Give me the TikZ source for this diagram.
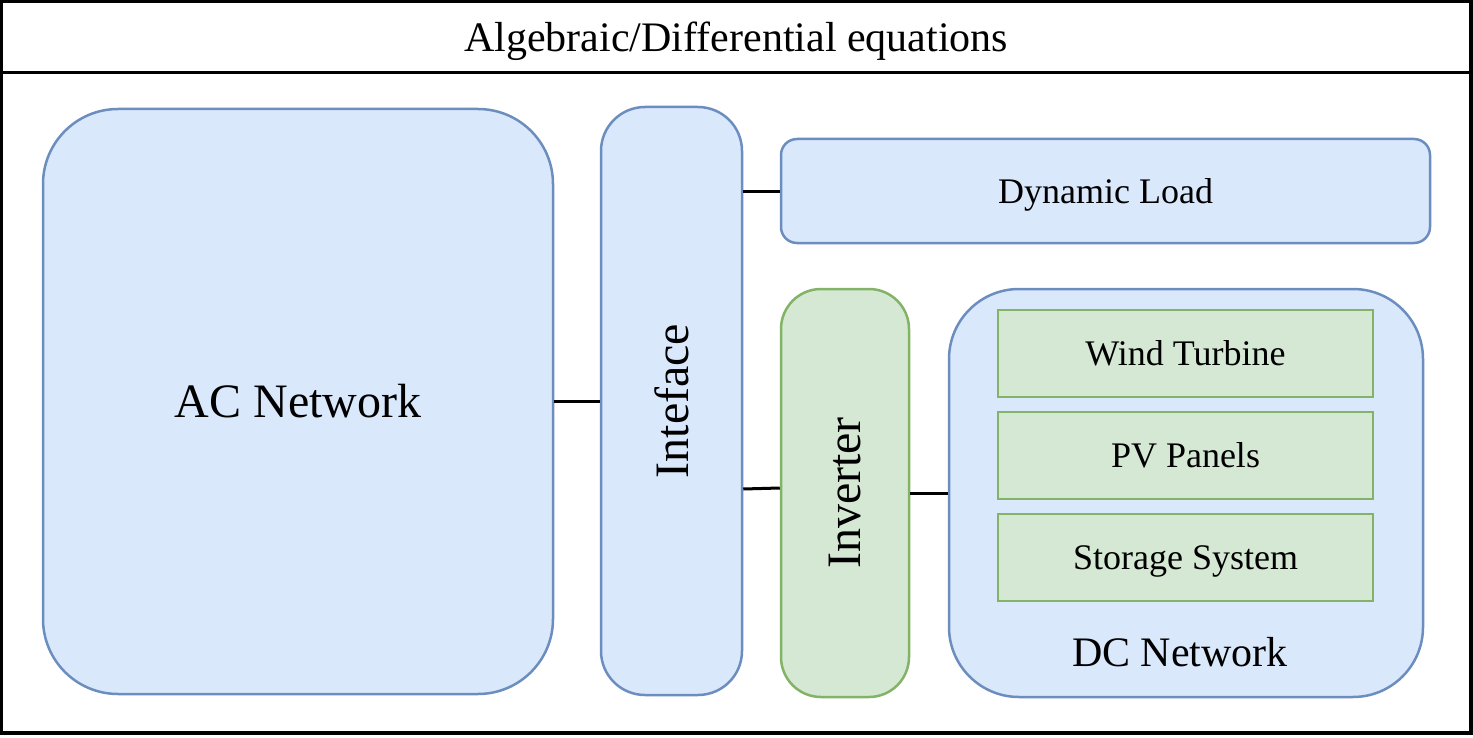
\documentclass[tikz,border=0pt]{standalone}
\usepackage{fontspec}
\setmainfont{Liberation Serif}
\definecolor{blueFill}{HTML}{DAE8FC}
\definecolor{blueLine}{HTML}{6C8EBF}
\definecolor{greenFill}{HTML}{D5E8D4}
\definecolor{greenLine}{HTML}{82B366}
\tikzset{
  bluebox/.style={draw=blueLine,fill=blueFill,line width=1.25pt},
  greenbox/.style={draw=greenLine,fill=greenFill,line width=1.25pt},
  link/.style={draw=black,line width=1.5pt},
  frame/.style={draw=black,line width=1.75pt,minimum width=734.75pt},
  textsmall/.style={font=\fontsize{18}{22}\selectfont,text height=16pt,text depth=3.9pt},
  textmid/.style={font=\fontsize{21}{25}\selectfont,text height=18.7pt,text depth=4.5pt},
  textbig/.style={font=\fontsize{24}{28}\selectfont,text height=21.4pt,text depth=5.2pt}
}
\begin{document}
\begin{tikzpicture}[x=0.5pt,y=-0.5pt]
            \tikzstyle{every node}+=[inner sep=0pt]
            \useasboundingbox (0,0) rectangle (1473,738);
            % outer frame and title
            \node [frame,textmid,minimum height=35.5pt] (title) at (736.25,37) {Algebraic/Differential equations};
            \node [frame,minimum height=330.25pt] (body) at (736.25,402.75) {};
            % blocks
            \node [bluebox,textbig,rounded corners=37.5pt,minimum width=255pt,minimum height=292.5pt] (ac) at (298,401.5) {AC Network};
            \node [bluebox,rounded corners=22pt,minimum width=70.5pt,minimum height=294pt,font=\fontsize{24}{28}\selectfont] (inteface) at (671.5,401) {\rotatebox{90}{Inteface}};
            \node [bluebox,textsmall,rounded corners=8pt,minimum width=324.5pt,minimum height=52pt] (load) at (1105.5,191) {Dynamic Load};
            \node [greenbox,rounded corners=20pt,minimum width=64pt,minimum height=204pt,font=\fontsize{24}{28}\selectfont] (inverter) at (845,493) {\rotatebox{90}{Inverter}};
            \node [bluebox,rounded corners=35pt,minimum width=237pt,minimum height=204pt] (dc) at (1186,493) {};
            \node [textmid] (dclabel) at (1180,652) {DC Network};
            % sources inside the DC network
            \node [greenbox,textsmall,minimum width=187.5pt,minimum height=43.5pt] (wind) at (1185.5,353.5) {Wind Turbine};
            \node [greenbox,textsmall,minimum width=187.5pt,minimum height=43.5pt] (pv) at (1185.5,455.5) {PV Panels};
            \node [greenbox,textsmall,minimum width=187.5pt,minimum height=43.5pt] (storage) at (1185.5,557.5) {Storage System};
            % connections
            \draw [link] (ac.east) -- (ac.east -| inteface.west);
            \draw [link] (inteface.east |- load.west) -- (load.west);
            \draw [link] ([yshift=-44pt]inteface.east) -- ([yshift=2.5pt]inverter.west);
            \draw [link] (inverter.east) -- (dc.west);
        \end{tikzpicture}
\end{document}
